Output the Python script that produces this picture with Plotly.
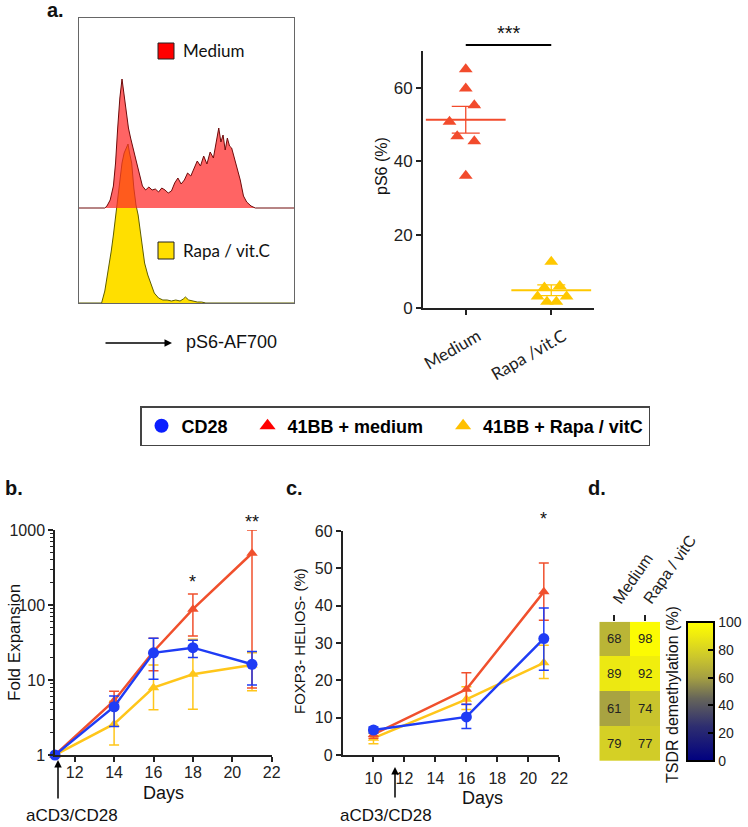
import numpy as np
import plotly.graph_objects as go

W, H = 748, 827
def X(px): return px / W
def Y(py): return 1 - py / H

ARIAL = "Liberation Sans, Arial, sans-serif"
CALI = "Lato, Open Sans, sans-serif"

# ---------------- data ----------------
# panel a: histogram (intensity bins, counts)
med_x = [0, 12, 13, 14.5, 16, 17, 18, 19, 20, 21, 22, 23, 24, 25, 26.5, 28, 29.5, 31, 32.5, 34,
         35.5, 37, 38.5, 40, 41.5, 43, 44.5, 46, 47.5, 49, 50.5, 52, 53.5, 55, 56.5, 58, 59.5, 61,
         62.5, 64, 65, 66, 67, 68, 69, 70, 71, 72, 73.5, 75, 76.5, 78, 80, 82, 100]
med_counts = [0, 0, 2, 8, 22, 45, 80, 110, 129, 112, 98, 80, 70, 60, 48, 35, 22, 18, 21, 18,
              19, 16, 20, 18, 15, 17, 25, 30, 24, 28, 35, 32, 40, 47, 42, 52, 44, 56,
              50, 68, 80, 66, 73, 58, 70, 62, 60, 52, 40, 28, 12, 6, 2, 0, 0]
rap_x = [0, 10.5, 12, 13.5, 15, 16, 17, 18, 19, 20, 21, 22, 22.8, 23.5, 24.5, 25.5, 26.5, 27.5,
         28.5, 29.5, 30.5, 32, 33.5, 35, 37, 39, 41, 43, 45, 47, 48.5, 49.5, 51, 53, 55, 57, 59, 100]
rap_counts = [0, 0, 12, 30, 52, 68, 86, 110, 125, 140, 150, 155, 159, 150, 140, 115, 98, 88,
              72, 55, 40, 28, 18, 10, 5, 3, 3, 2, 3, 2, 4, 6, 3, 2, 1, 1, 0, 0]

# panel a: pS6 (%)
ps6_cats = ["Medium", "Rapa /vit.C"]
ps6_medium = [65.0, 59.8, 55.2, 50.7, 46.8, 45.4, 36.0]
ps6_rapa = [12.6, 5.6, 6.0, 3.1, 3.1, 1.7, 1.7]

# panel b: fold expansion
b_days = [11, 14, 16, 18, 21]
b_cd28 = [1, 4.4, 23, 27, 16.2]
b_cd28_hi = [1, 6.1, 36, 34, 23.9]
b_cd28_lo = [1, 2.4, 10.2, 20, 8.6]
b_med = [1, 5.3, 24, 88, 490]
b_med_hi = [1, 7.1, 36, 140, 1000]
b_med_lo = [1, 4.1, 13.3, 38.6, 7.8]
b_rap = [1, 2.6, 7.9, 11.9, 15.8]
b_rap_hi = [1, 5.2, 15.8, 35, 23]
b_rap_lo = [1, 1.36, 4.0, 4.06, 7.2]

# panel c: FOXP3- HELIOS- (%)
c_days = [10, 16, 21]
c_cd28 = [6.7, 10.2, 31.2]
c_cd28_hi = [7.5, 13.6, 39.4]
c_cd28_lo = [5.9, 7.1, 22.7]
c_med = [5.5, 17.6, 43.7]
c_med_hi = [6.5, 22.0, 51.4]
c_med_lo = [4.5, 13.5, 36.1]
c_rap = [4.5, 14.9, 24.7]
c_rap_hi = [5.8, 18.3, 29.4]
c_rap_lo = [3.0, 12.2, 20.5]

# panel d: TSDR demethylation (%)
d_cols = ["Medium", "Rapa / vitC"]
d_rows = ["1", "2", "3", "4"]
d_vals = [[68, 98], [89, 92], [61, 74], [79, 77]]

# ---------------- styles ----------------
RED = "#F0502D"
BLUE = "#1F3CF5"
YEL = "#FFC61A"
jit_med = [0, 0, 0.1, -0.19, -0.1, 0.1, 0]
jit_rap = [0, -0.08, 0.1, -0.16, 0.18, -0.05, 0.06]

fig = go.Figure()

# ---- histogram ----
offset = 95
fig.add_trace(go.Scatter(x=rap_x, y=rap_counts, mode="lines", fill="toself",
                         fillcolor="#FFDF00", line=dict(color="#5E5E00", width=1),
                         xaxis="x", yaxis="y", showlegend=False, hoverinfo="skip"))
fig.add_trace(go.Scatter(x=med_x, y=[c + offset for c in med_counts], mode="lines", fill="toself",
                         fillcolor="rgba(255,40,40,0.72)", line=dict(color="#6E0A0A", width=1),
                         xaxis="x", yaxis="y", showlegend=False, hoverinfo="skip"))

# ---- pS6 scatter ----
for i, (vals, jit, col) in enumerate([(ps6_medium, jit_med, "#F24B2C"), (ps6_rapa, jit_rap, "#FFC800")]):
    v = np.array(vals)
    fig.add_trace(go.Scatter(x=[i + j for j in jit], y=v, mode="markers",
                             marker=dict(symbol="triangle-up", size=12, color=col),
                             xaxis="x2", yaxis="y2", showlegend=False, cliponaxis=False))
    mean = v.mean()
    sem = v.std(ddof=1) / np.sqrt(len(v))
    fig.add_trace(go.Scatter(x=[i], y=[mean], mode="markers",
                             marker=dict(symbol="line-ew", size=57, line=dict(color=col, width=2)),
                             error_y=dict(type="data", array=[sem], width=14, thickness=1.3, color=col),
                             xaxis="x2", yaxis="y2", showlegend=False))

# ---- panel b ----
def err(v, hi, lo):
    return dict(type="data", symmetric=False,
                array=[h - m for h, m in zip(hi, v)],
                arrayminus=[m - l for m, l in zip(v, lo)])

for v, hi, lo, col, sym in [(b_rap, b_rap_hi, b_rap_lo, YEL, "triangle-up"),
                            (b_med, b_med_hi, b_med_lo, RED, "triangle-up"),
                            (b_cd28, b_cd28_hi, b_cd28_lo, BLUE, "circle")]:
    e = err(v, hi, lo); e.update(color=col, thickness=1.5, width=5)
    fig.add_trace(go.Scatter(x=b_days, y=v, mode="lines+markers",
                             line=dict(color=col, width=2.5),
                             marker=dict(symbol=sym, size=11 if sym == "circle" else 10, color=col),
                             error_y=e, xaxis="x3", yaxis="y3", showlegend=False, cliponaxis=False))

for v, hi, lo, col, sym in [(c_rap, c_rap_hi, c_rap_lo, YEL, "triangle-up"),
                            (c_med, c_med_hi, c_med_lo, RED, "triangle-up"),
                            (c_cd28, c_cd28_hi, c_cd28_lo, BLUE, "circle")]:
    e = err(v, hi, lo); e.update(color=col, thickness=1.5, width=5)
    fig.add_trace(go.Scatter(x=c_days, y=v, mode="lines+markers",
                             line=dict(color=col, width=2.5),
                             marker=dict(symbol=sym, size=11 if sym == "circle" else 10, color=col),
                             error_y=e, xaxis="x4", yaxis="y4", showlegend=False, cliponaxis=False))

# legend entries
NB = "\u00a0" * 3
for name, col, sym in [("<b>CD28</b>" + NB, "#0A1EFF", "circle"),
                       ("<b>41BB + medium</b>" + NB, "#FF0000", "triangle-up"),
                       ("<b>41BB + Rapa / vitC</b>", "#FFC000", "triangle-up")]:
    fig.add_trace(go.Scatter(x=[None], y=[None], mode="markers", name=name,
                             marker=dict(symbol=sym, size=14, color=col),
                             xaxis="x3", yaxis="y3", showlegend=True))

# ---- panel d heatmap ----
fig.add_trace(go.Heatmap(z=d_vals, x=d_cols, y=d_rows, zmin=0, zmax=100,
                         colorscale=[[0, "#000080"], [0.25, "#2E2E70"], [0.45, "#66655A"],
                                     [0.6, "#A5A042"], [0.75, "#CCC72C"], [0.9, "#EEEA10"],
                                     [1, "#FFFF00"]],
                         texttemplate="%{z}", textfont=dict(size=13, color="#222", family=ARIAL),
                         xaxis="x5", yaxis="y5", showscale=True,
                         colorbar=dict(x=X(686.7), xanchor="left", y=Y(761), yanchor="bottom",
                                       len=(761 - 621.7) / H, lenmode="fraction",
                                       thickness=27, thicknessmode="pixels",
                                       outlinewidth=2, outlinecolor="black",
                                       ticks="inside", ticklen=7, tickwidth=2, tickcolor="black",
                                       tickvals=[0, 20, 40, 60, 80, 100],
                                       tickfont=dict(size=14, family=ARIAL, color="#222"),
                                       xpad=0, ypad=0)))

axline = dict(showline=True, linecolor="#222", showgrid=False, zeroline=False,
              ticks="outside", tickcolor="#222", automargin=False)

fig.update_layout(
    width=W, height=H, margin=dict(l=0, r=0, t=0, b=0, autoexpand=False),
    paper_bgcolor="white", plot_bgcolor="white",
    font=dict(family=ARIAL, color="#222"),
    xaxis=dict(domain=[X(79), X(294)], range=[0, 100], showline=True, mirror=True,
               linecolor="#666", linewidth=1, showticklabels=False, ticks="",
               showgrid=False, zeroline=False, anchor="y", automargin=False),
    yaxis=dict(domain=[Y(303), Y(18)], range=[0, 285], showline=True, mirror=True,
               linecolor="#666", linewidth=1, showticklabels=False, ticks="",
               showgrid=False, zeroline=False, anchor="x", automargin=False),
    xaxis2=dict(domain=[X(423), X(594)], range=[-0.5, 1.5], tickvals=[0, 1], ticktext=ps6_cats,
                tickangle=-30, ticklen=5, tickwidth=1.5, linewidth=2,
                ticklabelshift=12, ticklabelstandoff=5,
                tickfont=dict(family=CALI, size=17, color="#222"), anchor="y2", **axline),
    yaxis2=dict(domain=[Y(308), Y(51)], range=[0, 70], tickvals=[0, 20, 40, 60],
                ticklen=5, tickwidth=1.5, linewidth=2,
                tickfont=dict(size=17, color="#222"), anchor="x2", **axline),
    xaxis3=dict(domain=[X(55), X(271.7)], range=[11, 22], tick0=12, dtick=2,
                ticklen=5, tickwidth=1.5, linewidth=1.5, ticklabelstandoff=-3,
                tickfont=dict(size=16, color="#222"), anchor="y3", **axline),
    yaxis3=dict(domain=[Y(755), Y(530)], type="log", range=[0, 3], dtick=1,
                exponentformat="none", ticklen=5, tickwidth=1.5, linewidth=1.5,
                minor=dict(ticks="outside", ticklen=3, tickwidth=1, tickcolor="#222", showgrid=False),
                tickfont=dict(size=16, color="#222"), anchor="x3", **axline),
    xaxis4=dict(domain=[X(342.5), X(559.3)], range=[8, 22], tickvals=[10, 12, 14, 16, 18, 20, 22],
                ticklen=5, tickwidth=1.5, linewidth=1.5, ticklabelstandoff=3,
                tickfont=dict(size=16, color="#222"), anchor="y4", **axline),
    yaxis4=dict(domain=[Y(755), Y(531)], range=[0, 60], dtick=10,
                ticklen=5, tickwidth=1.5, linewidth=1.5,
                tickfont=dict(size=16, color="#222"), anchor="x4", **axline),
    xaxis5=dict(domain=[X(599.3), X(660)], side="top", tickangle=-55, ticks="outside",
                ticklen=6, tickwidth=2, tickcolor="#222", showline=False, showgrid=False,
                zeroline=False, tickfont=dict(size=16, color="#222"), anchor="y5", automargin=False),
    yaxis5=dict(domain=[Y(761), Y(621.7)], autorange="reversed", showticklabels=False,
                ticks="", showgrid=False, zeroline=False, showline=False, anchor="x5", automargin=False),
    legend=dict(orientation="h", x=X(395), xanchor="center", y=Y(406), yanchor="top",
                bordercolor="#444", borderwidth=1.5, bgcolor="white",
                font=dict(family=ARIAL, size=18, color="black"), itemsizing="trace"),
)

shapes = [
    dict(type="rect", xref="paper", yref="paper", x0=X(158), x1=X(174), y0=Y(59), y1=Y(43),
         fillcolor="#FF0000", line=dict(color="#222", width=1)),
    dict(type="rect", xref="paper", yref="paper", x0=X(158), x1=X(174), y0=Y(259), y1=Y(242),
         fillcolor="#FFDF00", line=dict(color="#222", width=1)),
    dict(type="line", xref="x2", yref="paper", x0=0, x1=1, y0=Y(45), y1=Y(45),
         line=dict(color="black", width=2)),
]
fig.update_layout(shapes=shapes)

ann = []
def txt(t, px, py, size, bold=False, family=ARIAL, xanchor="center", angle=0, xref="paper", x=None):
    ann.append(dict(text=f"<b>{t}</b>" if bold else t, xref=xref,
                    x=X(px) if x is None else x, y=Y(py), yref="paper",
                    showarrow=False, xanchor=xanchor, yanchor="middle", textangle=angle,
                    font=dict(size=size, family=family, color="#111")))

txt("a.", 56, 10, 20, bold=True)
txt("b.", 14, 488, 20, bold=True)
txt("c.", 294, 488, 20, bold=True)
txt("d.", 597, 488, 20, bold=True)
txt("Medium", 181, 51, 17, family=CALI, xanchor="left")
txt("Rapa / vit.C", 181, 250, 17, family=CALI, xanchor="left")
txt("pS6-AF700", 184, 342, 18, xanchor="left")
txt("***", 0, 33, 20, xref="x2", x=0.5)
txt("pS6 (%)", 382, 166, 16, angle=-90)
txt("Fold Expansion", 14, 643, 17, angle=-90)
txt("FOXP3- HELIOS- (%)", 299, 641, 15, angle=-90)
txt("TSDR demethylation (%)", 672, 695, 16, angle=-90)
txt("Days", 163, 793, 18)
txt("Days", 482, 798, 18)
txt("aCD3/CD28", 72, 815, 17)
txt("aCD3/CD28", 386, 815, 17)
txt("*", 0, 582, 18, xref="x3", x=18)
txt("**", 0, 522, 18, xref="x3", x=21)
txt("*", 0, 519, 18, xref="x4", x=21)

arrows = [
    dict(x=X(172), y=Y(343), ax=-68, ay=0),
    dict(x=X(58), y=Y(760), ax=0, ay=40),
    dict(x=X(395), y=Y(767), ax=0, ay=32),
]
for a in arrows:
    ann.append(dict(text="", xref="paper", yref="paper", showarrow=True, arrowhead=2,
                    arrowsize=1, arrowwidth=1.5, arrowcolor="black", axref="pixel", ayref="pixel", **a))

fig.update_layout(annotations=ann)
fig.write_html("out.html", config={"displayModeBar": False},
               post_script="document.body.style.margin='0';document.body.style.overflow='hidden';")
